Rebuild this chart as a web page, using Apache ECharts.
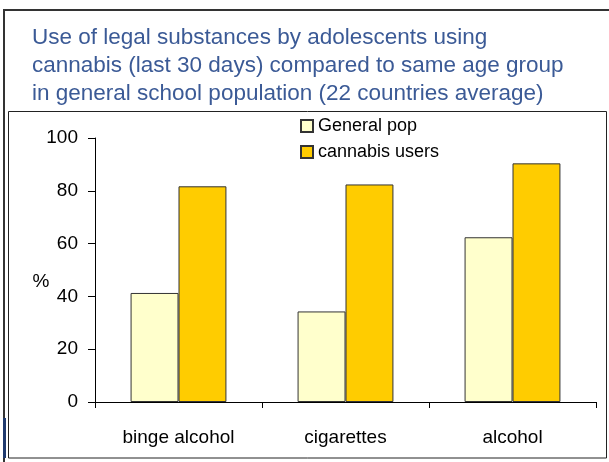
<!DOCTYPE html>
<html><head><meta charset="utf-8">
<script src="https://cdn.jsdelivr.net/npm/echarts@6/dist/echarts.min.js"></script>
<style>html,body{margin:0;padding:0;background:#fff}#c{width:609px;height:462px}</style>
</head><body><div id="c"></div>
<script>
var categories = ['binge alcohol', 'cigarettes', 'alcohol'];
var generalPop = [41.3, 34.3, 62.4];
var cannabisUsers = [81.7, 82.4, 90.4];
var seriesNames = ['General pop', 'cannabis users'];
var yTickValues = [0, 20, 40, 60, 80, 100];
var yAxisName = '%';
var titleText = 'Use of legal substances by adolescents using\ncannabis (last 30 days) compared to same age group\nin general school population (22 countries average)';

var chart = echarts.init(document.getElementById('c'), null, {renderer: 'canvas'});
var font = 'Liberation Sans, Arial, sans-serif';
chart.setOption({
  animation: false,
  backgroundColor: '#fff',
  title: {
    text: titleText, left: 27, top: 19,
    textStyle: {color: '#3B5A96', fontSize: 22.5, fontWeight: 'normal', fontFamily: font, lineHeight: 28}
  },
  legend: {
    data: seriesNames, orient: 'vertical', left: 300, top: 117,
    itemWidth: 12, itemHeight: 12, itemGap: 8, padding: 0,
    icon: 'rect',
    textStyle: {fontSize: 18, fontFamily: font, color: '#000'}
  },
  grid: {left: 95, right: 13, top: 138, bottom: 60},
  xAxis: {
    type: 'category', data: categories,
    axisLine: {lineStyle: {color: '#000', width: 1}},
    axisTick: {show: true, length: 6, lineStyle: {color: '#000'}},
    axisLabel: {color: '#000', fontSize: 19, fontFamily: font, margin: 26}
  },
  yAxis: {
    type: 'value', min: yTickValues[0], max: yTickValues[yTickValues.length - 1], interval: 20,
    axisLine: {show: true, lineStyle: {color: '#000', width: 1}},
    axisTick: {show: true, length: 7, lineStyle: {color: '#000'}},
    axisLabel: {color: '#000', fontSize: 19, fontFamily: font, margin: 17},
    splitLine: {show: false}
  },
  series: [
    {name: seriesNames[0], type: 'bar', data: generalPop, barWidth: '28.7%', barGap: '0%',
     itemStyle: {color: '#FFFFCC', borderColor: '#333', borderWidth: 1}},
    {name: seriesNames[1], type: 'bar', data: cannabisUsers, barWidth: '28.7%', barGap: '0%',
     itemStyle: {color: '#FFCC00', borderColor: '#333', borderWidth: 1}}
  ],
  graphic: [
    {type: 'rect', shape: {x: 4, y: 10, width: 610, height: 460}, style: {fill: null, stroke: '#333', lineWidth: 2}, silent: true},
    {type: 'rect', shape: {x: 8.5, y: 111.5, width: 598, height: 346.5}, style: {fill: null, stroke: '#222', lineWidth: 1}, silent: true},
    {type: 'rect', shape: {x: 3, y: 418, width: 3, height: 40}, style: {fill: '#1F3A6E'}, silent: true},
    {type: 'text', x: 41, y: 282, style: {text: yAxisName, fontSize: 19, fontFamily: font, fill: '#000', textAlign: 'center', textVerticalAlign: 'middle'}, silent: true}
  ]
});
</script></body></html>
